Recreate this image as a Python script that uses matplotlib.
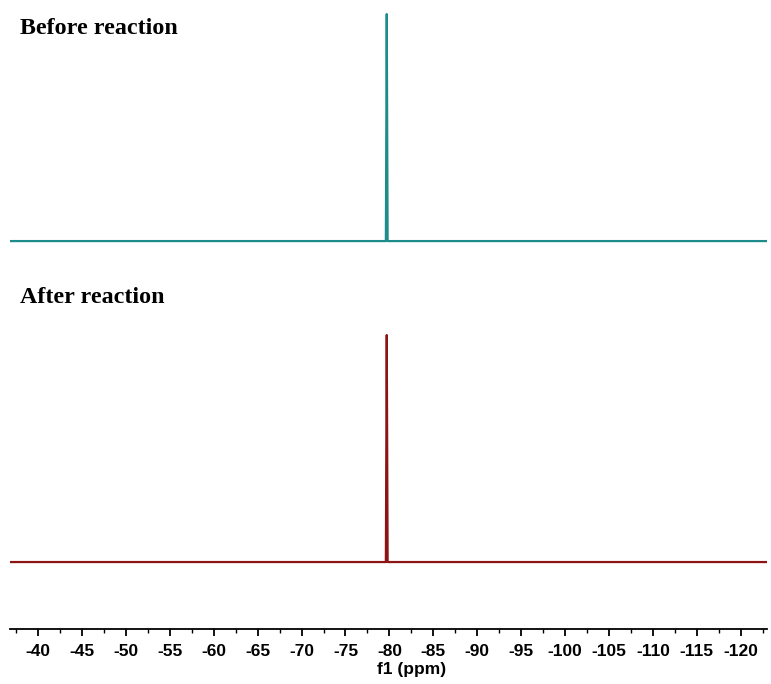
import matplotlib.pyplot as plt
from matplotlib.ticker import MultipleLocator

plt.rcParams['axes.unicode_minus'] = False

# spectra (ppm, normalised intensity)
ppm_before = [-36.8, -79.6, -79.7, -79.8, -123.0]
int_before = [0.0, 0.0, 1.0, 0.0, 0.0]
ppm_after = [-36.8, -79.6, -79.7, -79.8, -123.0]
int_after = [0.0, 0.0, 1.0, 0.0, 0.0]
offset_before = 1.414

fig = plt.figure(figsize=(7.71, 6.84), dpi=100)
ax = fig.add_axes([10/771, 55/684, 757/771, 619/684])

ax.plot(ppm_before, [v + offset_before for v in int_before], color='#1f8c8c', lw=1.6)
ax.plot(ppm_after, int_after, color='#8c1414', lw=1.6)

ax.set_xlim(-36.8, -123.0)
ax.set_ylim(-0.295, 2.432)
ax.xaxis.set_major_locator(MultipleLocator(5))
ax.xaxis.set_minor_locator(MultipleLocator(2.5))
ax.set_yticks([])
for s in ['top', 'left', 'right']:
    ax.spines[s].set_visible(False)
ax.spines['bottom'].set_linewidth(1.3)
ax.tick_params(axis='x', which='major', length=5, width=1.3, pad=6)
ax.tick_params(axis='x', which='minor', length=3, width=1.0)
for lab in ax.get_xticklabels():
    lab.set_family('Liberation Sans')
    lab.set_fontweight('bold')
    lab.set_fontsize(12.5)
ax.set_xlabel('f1 (ppm)', family='Liberation Sans', fontweight='bold', fontsize=12.5,
              va='top', ha='center')
ax.xaxis.set_label_coords(0.531, -0.053)

fig.text(20/771, 1 - 28/684, 'Before reaction', family='Liberation Serif', fontweight='bold',
         fontsize=17.3, va='center', ha='left')
fig.text(20/771, 1 - 298/684, 'After reaction', family='Liberation Serif', fontweight='bold',
         fontsize=17.3, va='center', ha='left')

fig.savefig('out.png', dpi=100)
